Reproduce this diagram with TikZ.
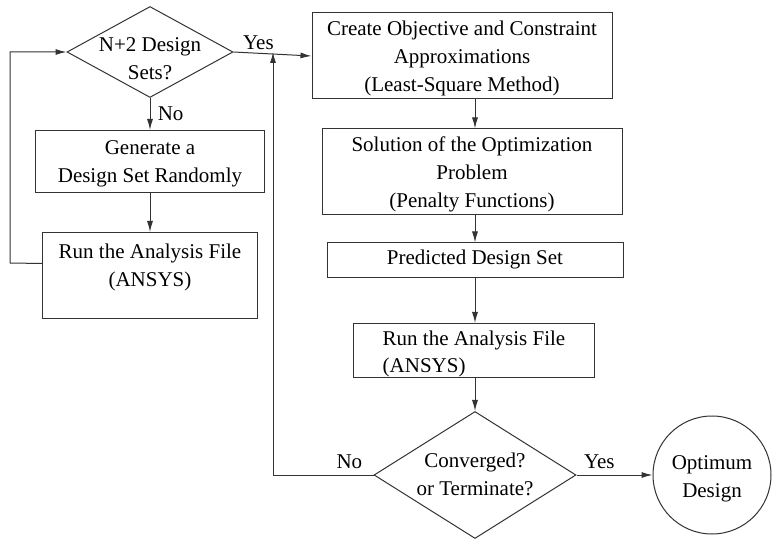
\documentclass[tikz,border=0pt]{standalone}
\usepackage{fontspec}
\setmainfont{Liberation Serif}
\usetikzlibrary{shapes.geometric,arrows.meta}

\begin{document}
\begin{tikzpicture}[x=1pt, y=-1pt, >={Latex[length=11pt,width=6pt]},
                    line width=1pt, color=black!80,
                    box/.style={rectangle,draw,align=center,inner sep=0pt,text=black,
                                text depth=4pt,font=\fontsize{21}{28}\selectfont},
                    decision/.style={diamond,draw,inner sep=0pt},
                    final/.style={circle,draw,align=center,inner sep=0pt,text=black,
                                  text depth=4pt,font=\fontsize{21}{28}\selectfont},
                    tag/.style={text=black,font=\fontsize{21}{28}\selectfont}]

  \useasboundingbox (0,0) rectangle (772,540);

  % left column
  \node[decision, minimum width=166, minimum height=91,
        label={[tag, align=center, inner sep=0pt, text height=60pt, text depth=4pt]center:N+2 Design\\Sets?}] (sets) at (150,52) {};
  \node[box, minimum width=229, minimum height=62, text height=47pt] (gen) at (150,161.5) {Generate a\\Design Set Randomly};
  \node[box, minimum width=215, minimum height=86, text height=27pt] (run) at (150,275.5) {Run the Analysis File\\(ANSYS)};

  % right column
  \node[box, minimum width=300, minimum height=86, text height=76pt] (approx) at (462,56)
        {Create Objective and Constraint\\Approximations\\(Least-Square Method)};
  \node[box, minimum width=300, minimum height=86, text height=76pt] (solve) at (472,172)
        {Solution of the Optimization\\Problem\\(Penalty Functions)};
  \node[box, minimum width=296, minimum height=35, text height=13pt] (pred) at (475,260.5) {Predicted Design Set};
  \node[box, align=left, minimum width=241, minimum height=54, text height=49pt] (check) at (474,350.5)
        {Run the Analysis File\\(ANSYS)};
  \node[decision, minimum width=202, minimum height=127,
        label={[tag, align=center, inner sep=0pt, text height=44pt, text depth=4pt]center:Converged?\\or Terminate?}] (conv) at (475,475) {};
  \node[final, minimum size=118, text height=48pt] (opt) at (712,475) {Optimum\\Design};

  \coordinate (join) at (273,52);

  \path[->, every node/.style={tag}]

    (sets) edge node [pos=0.5, right=4pt] {No} (gen)

    (gen) edge (run)

    (sets.east) edge node [pos=0.32, above] {Yes} (approx.west)

    (approx.south -| pred) edge (solve.north -| pred)

    (solve.south -| pred) edge (pred)

    (pred) edge (pred |- check.north)

    (pred |- check.south) edge (conv)

    (conv) edge node [pos=0.3, above=2pt] {Yes} (opt)	;

  \draw[->] (conv.west) -- node [tag, pos=0.24, above=2pt] {No} (conv.west -| join) -- (join);

  \draw[->] ([yshift=12pt]run.west) -- (10,263) |- (sets.west);

\end{tikzpicture}
\end{document}
